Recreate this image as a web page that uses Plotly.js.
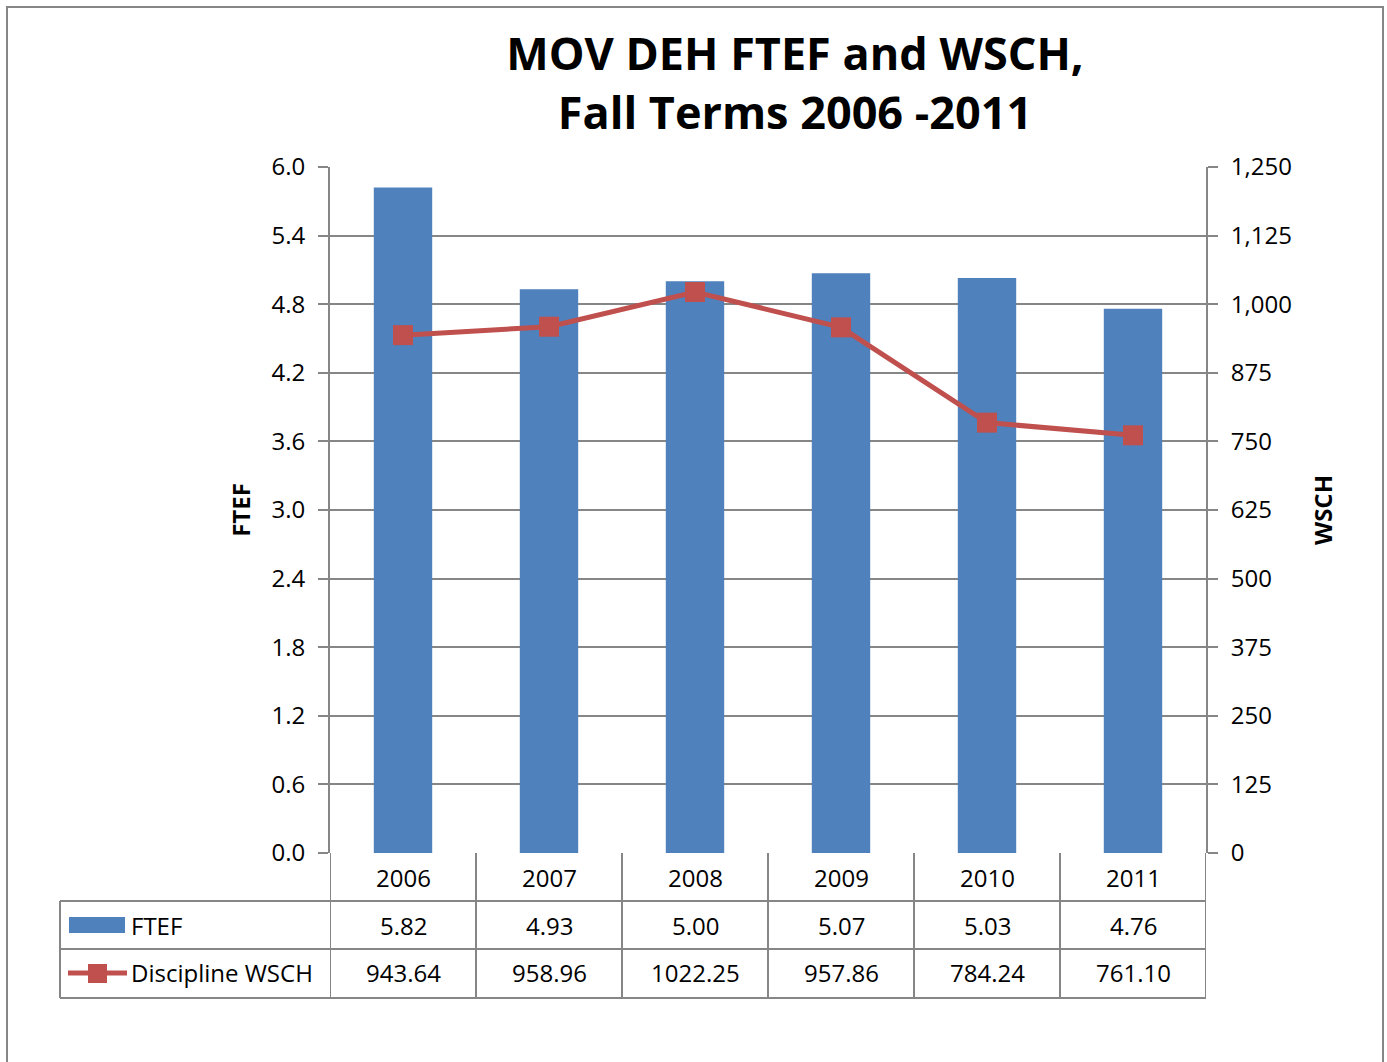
<!DOCTYPE html>
<html>
<head>
<meta charset="utf-8">
<script src="https://cdn.plot.ly/plotly-3.0.1.min.js"></script>
<style>html,body{margin:0;padding:0;background:#fff;}#chart{width:1387px;height:1062px;}</style>
</head>
<body>
<div id="chart"></div>
<script>
const years = ["2006", "2007", "2008", "2009", "2010", "2011"];
const ftef = [5.82, 4.93, 5.00, 5.07, 5.03, 4.76];
const wsch = [943.64, 958.96, 1022.25, 957.86, 784.24, 761.10];
const seriesNames = ["FTEF", "Discipline WSCH"];
const chartTitle = "MOV DEH FTEF and WSCH,<br>Fall Terms 2006 -2011";

const FONT = "'Open Sans', sans-serif";
const BLUE = "#4f81bd", RED = "#c0504d", GRID = "#868686";
const W = 1387, H = 1062;
const L = 330, R = 1206, T = 167, B = 853;
const pw = R - L, ph = B - T;
const px = x => (x - L) / pw;           // pixel x -> paper
const py = y => (B - y) / ph;           // pixel y -> paper

const idx = years.map((_, i) => i);

const traces = [
  {type: "bar", x: idx, y: ftef, name: seriesNames[0], marker: {color: BLUE}, width: 0.4,
   yaxis: "y", hoverinfo: "x+y"},
  {type: "scatter", mode: "lines+markers", x: idx, y: wsch, name: seriesNames[1], yaxis: "y2",
   line: {color: RED, width: 5}, marker: {symbol: "square", size: 20, color: RED}}
];

const shapes = [];
const annotations = [];
const rowY = [B, 901, 949, 998];
// horizontal table lines
[1, 2, 3].forEach(r => shapes.push({type: "line", xref: "paper", yref: "paper", x0: px(60), x1: 1, y0: py(rowY[r]), y1: py(rowY[r]), line: {color: GRID, width: 2}}));
// vertical lines
for (let i = 0; i <= years.length; i++) {
  shapes.push({type: "line", xref: "x", yref: "paper", x0: i - 0.5, x1: i - 0.5, y0: py(B), y1: py(998), line: {color: GRID, width: 2}});
}
shapes.push({type: "line", xref: "paper", yref: "paper", x0: px(60), x1: px(60), y0: py(901), y1: py(998), line: {color: GRID, width: 2}});
// legend keys
shapes.push({type: "rect", xref: "paper", yref: "paper", x0: px(69), x1: px(125), y0: py(933), y1: py(917), fillcolor: BLUE, line: {width: 0}});
shapes.push({type: "line", xref: "paper", yref: "paper", x0: px(68), x1: px(127), y0: py(973), y1: py(973), line: {color: RED, width: 5}});
shapes.push({type: "rect", xref: "paper", yref: "paper", x0: px(88), x1: px(107), y0: py(983), y1: py(964), fillcolor: RED, line: {width: 0}});
// outer frame
shapes.push({type: "rect", xref: "paper", yref: "paper", x0: px(7), x1: px(1383), y0: py(1200), y1: py(7), line: {color: GRID, width: 2}, layer: "below"});

const cellFont = {family: FONT, size: 24, color: "#000"};
years.forEach((yr, i) => {
  annotations.push({xref: "x", yref: "paper", x: i, y: py(877), text: yr, showarrow: false, font: cellFont, xanchor: "center", yanchor: "middle"});
  annotations.push({xref: "x", yref: "paper", x: i, y: py(925), text: ftef[i].toFixed(2), showarrow: false, font: cellFont, xanchor: "center", yanchor: "middle"});
  annotations.push({xref: "x", yref: "paper", x: i, y: py(973), text: wsch[i].toFixed(2), showarrow: false, font: cellFont, xanchor: "center", yanchor: "middle"});
});
annotations.push({xref: "paper", yref: "paper", x: px(129), y: py(925), text: seriesNames[0], showarrow: false, font: cellFont, xanchor: "left", yanchor: "middle"});
annotations.push({xref: "paper", yref: "paper", x: px(129), y: py(973), text: seriesNames[1], showarrow: false, font: cellFont, xanchor: "left", yanchor: "middle"});

const layout = {
  width: W, height: H,
  paper_bgcolor: "#fff", plot_bgcolor: "#fff",
  margin: {l: L, r: W - R, t: T, b: H - B, pad: 0},
  showlegend: false,
  font: {family: FONT, size: 24, color: "#000"},
  title: {text: chartTitle, font: {family: FONT, size: 45, color: "#000", weight: "bold"},
          x: 795 / W, xref: "container", xanchor: "center", y: 1 - 70 / H, yref: "container", yanchor: "middle"},
  xaxis: {range: [-0.5, years.length - 0.5], showticklabels: false, showgrid: false, zeroline: false,
          showline: false, ticks: "", fixedrange: true},
  yaxis: {range: [0, 6], dtick: 0.6, tick0: 0, tickformat: ".1f", showgrid: true, gridcolor: GRID, gridwidth: 2,
          zeroline: false, showline: true, linecolor: GRID, linewidth: 2, ticks: "outside", ticklen: 10,
          tickcolor: GRID, tickwidth: 2, ticklabelstandoff: 8,
          tickfont: {family: FONT, size: 24, color: "#000"},
          title: {text: "FTEF", font: {family: FONT, size: 24, color: "#000", weight: "bold"}, standoff: 14}},
  yaxis2: {range: [0, 1250], dtick: 125, tick0: 0, tickformat: ",d", overlaying: "y", side: "right",
           showgrid: false, zeroline: false, showline: true, linecolor: GRID, linewidth: 2, ticks: "outside",
           ticklen: 10, tickcolor: GRID, tickwidth: 2, ticklabelstandoff: 8,
           tickfont: {family: FONT, size: 24, color: "#000"},
           title: {text: "WSCH", font: {family: FONT, size: 24, color: "#000", weight: "bold"}, standoff: 24}},
  shapes: shapes,
  annotations: annotations
};

Plotly.newPlot("chart", traces, layout, {displayModeBar: false, staticPlot: true});
</script>
</body>
</html>
